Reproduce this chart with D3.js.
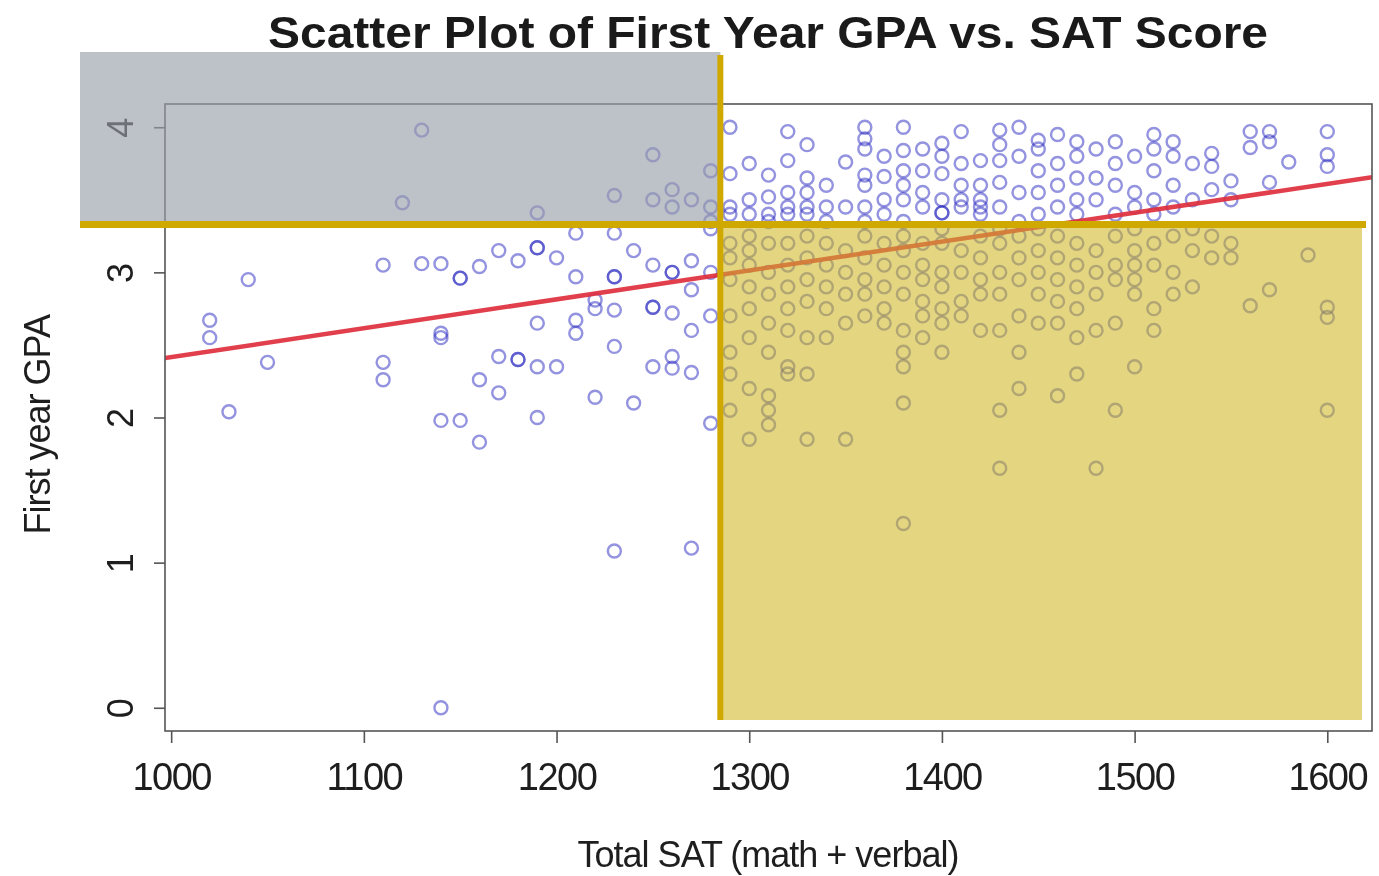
<!DOCTYPE html>
<html>
<head>
<meta charset="utf-8">
<script src="https://cdn.jsdelivr.net/npm/d3@7"></script>
<style>
  html, body { margin: 0; padding: 0; background: #fff; }
  svg { display: block; font-family: "Liberation Sans", Arial, sans-serif; }
</style>
</head>
<body>
<svg id="chart" width="1379" height="876"></svg>
<script>
// SAT columns (steps of 10) and the first-year GPAs
const satCols = [1020, 1030, 1040, 1050, 1110, 1120, 1130, 1140, 1150, 1160, 1170, 1180, 1190, 1200,
  1210, 1220, 1230, 1240, 1250, 1260, 1270, 1280, 1290, 1300, 1310, 1320, 1330, 1340, 1350, 1360,
  1370, 1380, 1390, 1400, 1410, 1420, 1430, 1440, 1450, 1460, 1470, 1480, 1490, 1500, 1510, 1520,
  1530, 1540, 1550, 1560, 1570, 1580, 1590, 1600];

const gpaCols = [
  [2.67, 2.55],
  [2.04],
  [2.95],
  [2.38],
  [3.05, 2.38, 2.26],
  [3.48],
  [3.98, 3.06],
  [3.06, 2.58, 2.55, 1.98, 0.0],
  [2.96, 2.96, 1.98],
  [3.04, 2.26, 1.83],
  [3.15, 2.42, 2.17],
  [3.08, 2.4, 2.4],
  [3.41, 3.17, 3.17, 2.65, 2.35, 2.0],
  [3.1, 2.35],
  [3.27, 2.97, 2.67, 2.58],
  [2.81, 2.75, 2.14],
  [3.53, 3.27, 2.97, 2.97, 2.74, 2.49, 1.08],
  [3.15, 2.1],
  [3.81, 3.5, 3.05, 2.76, 2.76, 2.35],
  [3.57, 3.45, 3.0, 3.0, 2.72, 2.42, 2.34],
  [3.5, 3.08, 2.88, 2.6, 2.31, 1.1],
  [3.7, 3.45, 3.35, 3.3, 3.0, 2.7, 1.96],
  [4.0, 3.68, 3.45, 3.4, 3.2, 3.1, 2.95, 2.7, 2.45, 2.3, 2.05],
  [3.75, 3.5, 3.4, 3.25, 3.15, 3.05, 2.9, 2.75, 2.55, 2.2, 1.85],
  [3.67, 3.52, 3.4, 3.35, 3.2, 3.0, 2.85, 2.65, 2.45, 2.15, 2.05, 1.95],
  [3.97, 3.77, 3.55, 3.45, 3.4, 3.2, 3.05, 2.9, 2.75, 2.6, 2.35, 2.3],
  [3.88, 3.65, 3.55, 3.45, 3.4, 3.25, 3.1, 2.95, 2.8, 2.55, 2.3, 1.85],
  [3.6, 3.45, 3.35, 3.2, 3.05, 2.9, 2.75, 2.55],
  [3.76, 3.45, 3.15, 3.0, 2.85, 2.65, 1.85],
  [4.0, 3.92, 3.85, 3.67, 3.6, 3.45, 3.35, 3.25, 3.1, 2.95, 2.85, 2.7],
  [3.8, 3.66, 3.5, 3.4, 3.2, 3.05, 2.9, 2.75, 2.65],
  [4.0, 3.84, 3.7, 3.6, 3.5, 3.35, 3.25, 3.15, 3.0, 2.85, 2.6, 2.45, 2.35, 2.1, 1.27],
  [3.85, 3.7, 3.55, 3.45, 3.2, 3.05, 2.95, 2.8, 2.7, 2.55],
  [3.89, 3.8, 3.68, 3.5, 3.41, 3.41, 3.3, 3.2, 3.0, 2.9, 2.75, 2.65, 2.45],
  [3.97, 3.75, 3.6, 3.5, 3.45, 3.15, 3.0, 2.8, 2.7],
  [3.77, 3.6, 3.5, 3.45, 3.4, 3.25, 3.1, 2.95, 2.85, 2.6],
  [3.98, 3.88, 3.77, 3.62, 3.45, 3.3, 3.2, 3.0, 2.85, 2.6, 2.05, 1.65],
  [4.0, 3.8, 3.55, 3.35, 3.25, 3.1, 2.95, 2.7, 2.45, 2.2],
  [3.91, 3.85, 3.7, 3.55, 3.4, 3.3, 3.15, 3.0, 2.85, 2.65],
  [3.95, 3.75, 3.6, 3.45, 3.25, 3.1, 2.95, 2.8, 2.65, 2.15],
  [3.9, 3.8, 3.65, 3.5, 3.4, 3.2, 3.05, 2.9, 2.75, 2.55, 2.3],
  [3.85, 3.65, 3.5, 3.15, 3.0, 2.85, 2.6, 1.65],
  [3.9, 3.75, 3.6, 3.4, 3.25, 3.05, 2.95, 2.65, 2.05],
  [3.8, 3.55, 3.45, 3.3, 3.15, 3.05, 2.95, 2.85, 2.35],
  [3.95, 3.85, 3.7, 3.5, 3.4, 3.2, 3.05, 2.75, 2.6],
  [3.9, 3.8, 3.6, 3.45, 3.25, 3.0, 2.85],
  [3.75, 3.5, 3.3, 3.15, 2.9],
  [3.82, 3.73, 3.57, 3.25, 3.1],
  [3.63, 3.5, 3.2, 3.1],
  [3.97, 3.86, 2.77],
  [3.97, 3.9, 3.62, 2.88],
  [3.76],
  [3.12],
  [3.97, 3.81, 3.73, 2.76, 2.69, 2.05]
];

// least-squares line: GPA = a + b * SAT
const fitCoef = [0.426, 0.00199];

const xTicks = [1000, 1100, 1200, 1300, 1400, 1500, 1600];
const yTicks = [0, 1, 2, 3, 4];

// highlighted quadrant cut-offs
const satCut = 1285;
const gpaCut = 3.33;

const W = 1379, H = 876;
const svg = d3.select("#chart");
svg.append("rect").attr("width", W).attr("height", H).attr("fill", "#fff");

const x = d3.scaleLinear().domain([996.8, 1623.2]).range([165, 1372]);
const y = d3.scaleLinear().domain([-0.16, 4.16]).range([731, 104]);

const points = [];
satCols.forEach((s, i) => gpaCols[i].forEach(g => points.push({ sat: s, gpa: g })));

// points
svg.append("g")
  .selectAll("circle")
  .data(points)
  .join("circle")
    .attr("cx", d => x(d.sat))
    .attr("cy", d => y(d.gpa))
    .attr("r", 6.5)
    .attr("fill", "none")
    .attr("stroke", "#2828c0")
    .attr("stroke-opacity", 0.5)
    .attr("stroke-width", 2.4);

// regression line, clipped to the plot box
svg.append("clipPath").attr("id", "box")
  .append("rect")
    .attr("x", x.range()[0]).attr("y", y.range()[1])
    .attr("width", x.range()[1] - x.range()[0])
    .attr("height", y.range()[0] - y.range()[1]);

const xs = x.domain();
svg.append("line")
  .attr("clip-path", "url(#box)")
  .attr("x1", x(xs[0])).attr("y1", y(fitCoef[0] + fitCoef[1] * xs[0]))
  .attr("x2", x(xs[1])).attr("y2", y(fitCoef[0] + fitCoef[1] * xs[1]))
  .attr("stroke", "#de2f3c")
  .attr("stroke-width", 4.5)
  .attr("stroke-opacity", 0.92);

// plot box
svg.append("rect")
  .attr("x", x.range()[0]).attr("y", y.range()[1])
  .attr("width", x.range()[1] - x.range()[0])
  .attr("height", y.range()[0] - y.range()[1])
  .attr("fill", "none")
  .attr("stroke", "#555")
  .attr("stroke-width", 1.6);

// axes
const xAxis = svg.append("g")
  .attr("transform", `translate(0,${y.range()[0]})`)
  .call(d3.axisBottom(x).tickValues(xTicks).tickSize(12).tickPadding(20).tickFormat(d3.format("d")));
xAxis.select(".domain").remove();
xAxis.selectAll("line").attr("stroke", "#555").attr("stroke-width", 1.6);
xAxis.selectAll("text")
  .attr("font-size", 38)
  .attr("fill", "#1e1e1e")
  .attr("font-family", "Liberation Sans, Arial, sans-serif")
  .attr("letter-spacing", -1.5);

const yAxis = svg.append("g")
  .attr("transform", `translate(${x.range()[0]},0)`)
  .call(d3.axisLeft(y).tickValues(yTicks).tickSize(11).tickFormat(d3.format("d")));
yAxis.select(".domain").remove();
yAxis.selectAll("line").attr("stroke", "#555").attr("stroke-width", 1.6);
yAxis.selectAll("text")
  .attr("x", null).attr("dy", null)
  .attr("text-anchor", "middle")
  .attr("transform", "translate(-32,0) rotate(-90)")
  .attr("font-size", 36)
  .attr("fill", "#1e1e1e")
  .attr("font-family", "Liberation Sans, Arial, sans-serif");

// quadrant highlight overlays: a light multiply tint plus a translucent wash
const xc = x(satCut), yc = y(gpaCut);
const overlays = [
  { x0: 80, y0: 52, x1: xc, y1: yc, tint: "#e1e4e8", wash: "#a5aab3", alpha: 0.6 },
  { x0: xc, y0: yc, x1: 1362, y1: 720, tint: "#f0e8be", wash: "#d8c442", alpha: 0.5 }
];
overlays.forEach(o => {
  svg.append("rect")
    .attr("x", o.x0).attr("y", o.y0)
    .attr("width", o.x1 - o.x0).attr("height", o.y1 - o.y0)
    .attr("fill", o.tint)
    .style("mix-blend-mode", "multiply");
  svg.append("rect")
    .attr("x", o.x0).attr("y", o.y0)
    .attr("width", o.x1 - o.x0).attr("height", o.y1 - o.y0)
    .attr("fill", o.wash)
    .attr("fill-opacity", o.alpha);
});
svg.append("line")
  .attr("x1", 80).attr("x2", 1366)
  .attr("y1", yc).attr("y2", yc)
  .attr("stroke", "#cfa900").attr("stroke-width", 7);
svg.append("line")
  .attr("x1", xc).attr("x2", xc)
  .attr("y1", 55).attr("y2", 720)
  .attr("stroke", "#cfa900").attr("stroke-width", 6);

// titles
svg.append("text")
  .attr("x", 768).attr("y", 48)
  .attr("text-anchor", "middle")
  .attr("font-size", 44)
  .attr("font-weight", "bold")
  .attr("fill", "#1a1a1a")
  .attr("textLength", 1000)
  .attr("lengthAdjust", "spacingAndGlyphs")
  .text("Scatter Plot of First Year GPA vs. SAT Score");

svg.append("text")
  .attr("x", 768).attr("y", 867)
  .attr("text-anchor", "middle")
  .attr("font-size", 36)
  .attr("fill", "#1e1e1e")
  .attr("letter-spacing", -1)
  .text("Total SAT (math + verbal)");

svg.append("text")
  .attr("transform", `translate(50,${y(1.95)}) rotate(-90)`)
  .attr("text-anchor", "middle")
  .attr("font-size", 36)
  .attr("fill", "#1e1e1e")
  .attr("letter-spacing", -1)
  .text("First year GPA");
</script>
</body>
</html>
